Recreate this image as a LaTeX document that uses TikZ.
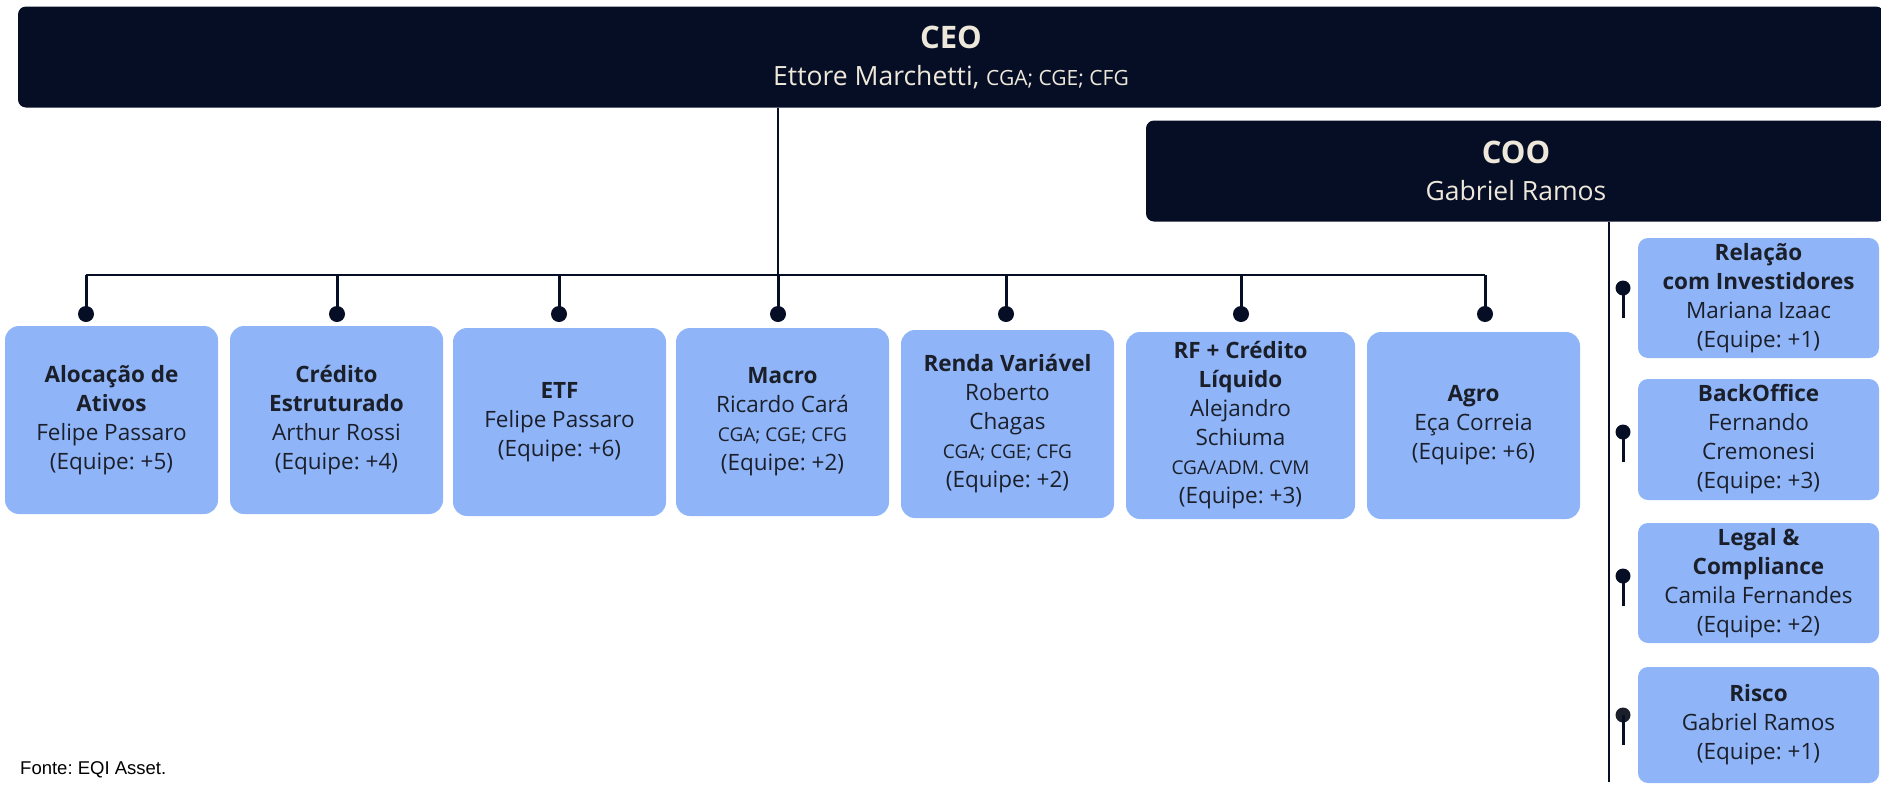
\documentclass[tikz,border=0pt]{standalone}
\usepackage{fontspec}
\setmainfont{Open Sans}
\newfontfamily\srcfont{Liberation Sans}
\usepackage{tikz}

\begin{document}
\frenchspacing
\begin{tikzpicture}[x=1pt, y=-1pt,
    head/.style={fill=navy, text=cream, rounded corners=8pt, align=center, inner sep=0pt,
        minimum height=101pt, font=\fontsize{26.5}{37}\selectfont},
    team/.style={fill=boxblue, text=ink, rounded corners=14pt, align=center, inner sep=0pt,
        minimum width=213pt, minimum height=188pt, font=\fontsize{22.5}{29}\selectfont},
    staff/.style={fill=boxblue, text=ink, rounded corners=10pt, align=center, inner sep=0pt,
        minimum width=241pt, minimum height=120pt, font=\fontsize{22.5}{29}\selectfont},
    knob/.style={circle, fill=navy, inner sep=0pt, minimum size=16pt},
    bar/.style={draw=navy, line width=2pt},
    stem/.style={draw=navy, line width=3pt}]
    \definecolor{navy}{HTML}{060E26}
    \definecolor{boxblue}{HTML}{8FB5F8}
    \definecolor{cream}{HTML}{EEE8DA}
    \definecolor{ink}{HTML}{1B1F2A}
    \newcommand{\cred}[1]{{\fontsize{19}{29}\selectfont #1}}

    \useasboundingbox (0,0) rectangle (1881,785);

    % heads
    \node[head, minimum width=1866pt] (ceo) at (951,57)
        {{\fontsize{31}{37}\selectfont\bfseries CEO}\\
         Ettore Marchetti, {\fontsize{21}{37}\selectfont CGA; CGE; CFG}};
    \node[head, minimum width=740pt] (coo) at (1516,171)
        {{\fontsize{31}{37}\selectfont\bfseries COO}\\
         Gabriel Ramos};

    % teams under the CEO
    \node[team] (t1) at (111.5,420) {\textbf{Alocação de}\\\textbf{Ativos}\\Felipe Passaro\\(Equipe: +5)};
    \node[team] (t2) at (336.5,420) {\textbf{Crédito}\\\textbf{Estruturado}\\Arthur Rossi\\(Equipe: +4)};
    \node[team] (t3) at (559.5,422) {\textbf{ETF}\\Felipe Passaro\\(Equipe: +6)};
    \node[team] (t4) at (782.5,422) {\textbf{Macro}\\Ricardo Cará\\\cred{CGA; CGE; CFG}\\(Equipe: +2)};
    \node[team] (t5) at (1007.5,424) {\textbf{Renda Variável}\\Roberto\\Chagas\\\cred{CGA; CGE; CFG}\\(Equipe: +2)};
    \node[team, minimum width=229pt, minimum height=187pt] (t6) at (1240.5,425.5)
        {\textbf{RF + Crédito}\\\textbf{Líquido}\\Alejandro\\Schiuma\\\cred{CGA/ADM. CVM}\\(Equipe: +3)};
    \node[team, minimum height=187pt] (t7) at (1473.5,425.5) {\textbf{Agro}\\Eça Correia\\(Equipe: +6)};

    % staff under the COO
    \node[staff] (s1) at (1758.5,298) {\textbf{Relação}\\\textbf{com Investidores}\\Mariana Izaac\\(Equipe: +1)};
    \node[staff, minimum height=121pt] (s2) at (1758.5,439.5) {\textbf{BackOffice}\\Fernando\\Cremonesi\\(Equipe: +3)};
    \node[staff] (s3) at (1758.5,583) {\textbf{Legal \&}\\\textbf{Compliance}\\Camila Fernandes\\(Equipe: +2)};
    \node[staff, minimum height=116pt] (s4) at (1758.5,725) {\textbf{Risco}\\Gabriel Ramos\\(Equipe: +1)};

    % knobs
    \foreach \i/\x in {1/86, 2/337, 3/559, 4/778, 5/1006, 6/1241, 7/1485}
        \node[knob] (p\i) at (\x,314) {};
    \foreach \i/\y in {1/288, 2/432, 3/576}
        \node[knob, minimum size=15pt] (k\i) at (1623,\y) {};
    \node[knob, minimum size=15pt, fill=ink] (k4) at (1623,715) {};

    % connectors
    \coordinate (rail) at (0,275);
    \coordinate (cooend) at (1609,782);
    \draw[bar] (ceo.south -| p4) -- (p4 |- rail);
    \draw[bar] (p1 |- rail) -- (p7 |- rail);
    \foreach \i in {1,...,7}
        \draw[stem] (p\i.center) -- (p\i |- rail);
    \draw[bar] (coo.south -| cooend) -- (cooend);
    \foreach \i in {1,...,4}
        \draw[stem] (k\i.center) -- ++(0,30);

    \node[anchor=base west, inner sep=0pt, font=\srcfont\fontsize{18.5}{22}\selectfont] (src) at (20,774) {Fonte: EQI Asset.};
\end{tikzpicture}
\end{document}
